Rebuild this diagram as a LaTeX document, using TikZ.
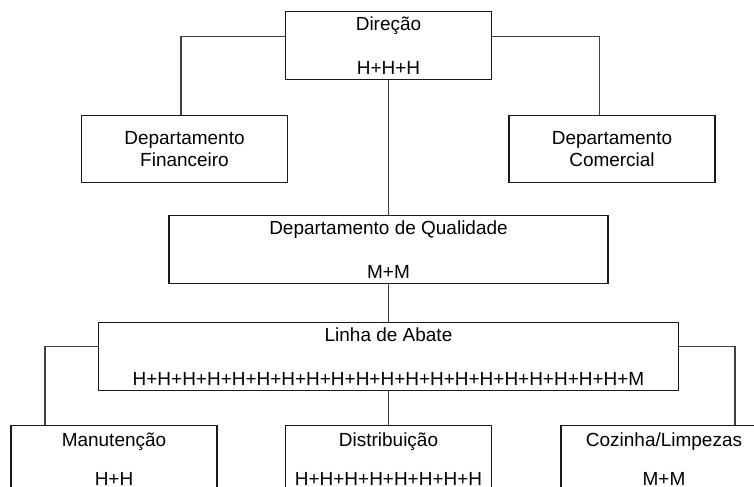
\documentclass[tikz,border=0pt]{standalone}
\usepackage{fontspec}
\setmainfont{Liberation Sans}
\usetikzlibrary{positioning}

\begin{document}
\begin{tikzpicture}[-,auto,node distance=1cm,
                    box node/.style={rectangle,draw=black!90,line width=0.6pt,minimum width=4.12cm,
                      minimum height=1.35cm,align=center,inner sep=0pt,font=\fontsize{10.8}{12.9}\selectfont},
                    link/.style={draw=black!75,line width=0.6pt}]

  \clip (0,0) rectangle (15.08,-9.74);

  \node[box node] (dir) at (7.77,-0.906) {Direção\\[12.1pt]H+H+H};
  \node[box node] (fin) [below=0.7cm of dir, xshift=-4.08cm] {Departamento\\[-0.6pt]Financeiro};
  \node[box node] (com) [below=0.7cm of dir, xshift=4.47cm] {Departamento\\[-0.6pt]Comercial};
  \node[box node, minimum width=8.78cm] (qual) [below=2.71cm of dir] {Departamento de Qualidade\\[12.1pt]M+M};
  \node[box node, minimum width=11.6cm] (lin) [below=0.77cm of qual] {Linha de Abate\\[12.1pt]H+H+H+H+H+H+H+H+H+H+H+H+H+H+H+H+H+H+H+H+M};
  % bottom row, cut by the page edge
  \node[box node] (dist) [below=0.68cm of lin] {Distribuição\\[9pt]H+H+H+H+H+H+H+H};
  \node[box node] (man) [below=0.68cm of lin, xshift=-5.49cm] {Manutenção\\[9pt]H+H};
  \node[box node] (coz) [below=0.68cm of lin, xshift=5.51cm] {Cozinha/Limpezas\\[9pt]M+M};

  \path[link]
    ([yshift=-0.51cm]dir.north west) -| ([xshift=-0.07cm]fin.north)
    ([yshift=-0.51cm]dir.north east) -| ([xshift=-0.25cm]com.north)
    (dir.south) -- (qual.north)
    (qual.south) -- (lin.north)
    ([yshift=-0.49cm]lin.north west) -| ([xshift=0.69cm]man.north west)
    ([yshift=-0.49cm]lin.north east) -| ([xshift=3.49cm]coz.north west)
    (lin.south) -- (dist.north);
\end{tikzpicture}
\end{document}
